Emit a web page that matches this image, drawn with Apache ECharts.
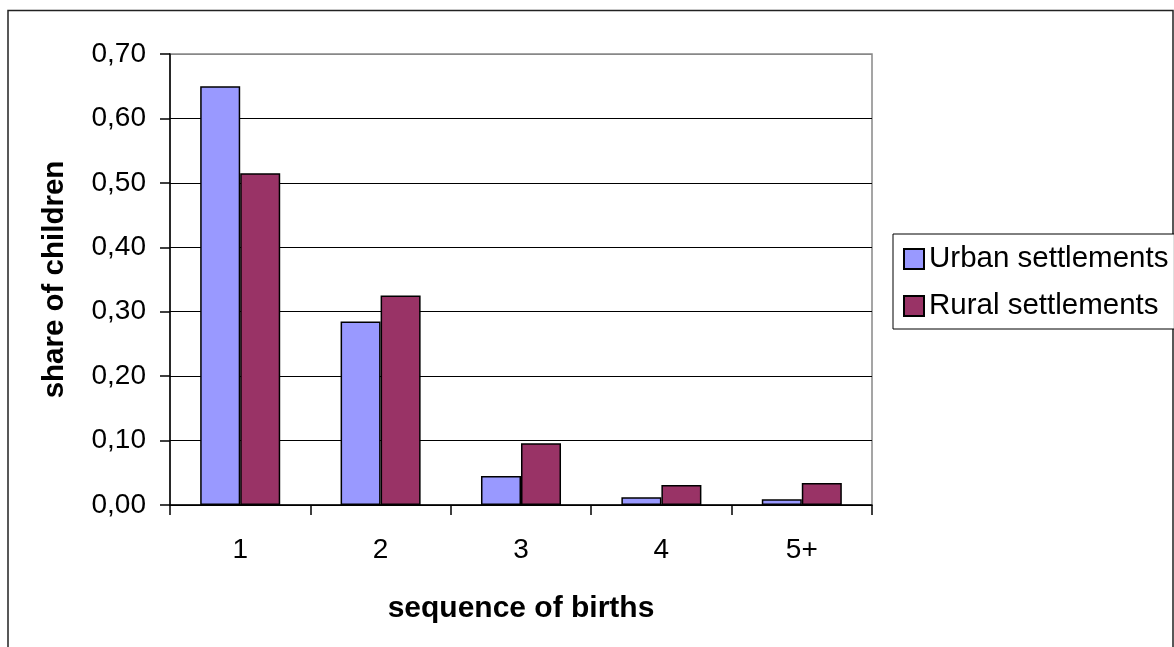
<!DOCTYPE html>
<html>
<head>
<meta charset="utf-8">
<script src="https://cdn.jsdelivr.net/npm/echarts@6/dist/echarts.min.js"></script>
<style>
  html, body { margin: 0; padding: 0; background: #fff; }
  #chart { width: 1174px; height: 647px; }
</style>
</head>
<body>
<div id="chart"></div>
<script>
// Birth order categories and share of children by settlement type
const categories = ['1', '2', '3', '4', '5+'];
const urbanShare = [0.65, 0.285, 0.045, 0.012, 0.009];
const ruralShare = [0.515, 0.325, 0.096, 0.031, 0.034];
const yTicks = { min: 0, max: 0.7, interval: 0.1 };

const FONT = '"Liberation Sans", Arial, sans-serif';

const chart = echarts.init(document.getElementById('chart'));

const barStyle = (color) => ({ color: color, borderColor: '#000', borderWidth: 1.5 });

chart.setOption({
  animation: false,
  backgroundColor: '#fff',
  textStyle: { fontFamily: FONT, color: '#000' },
  graphic: [{
    type: 'rect',
    shape: { x: 8, y: 10.5, width: 1165, height: 660 },
    style: { fill: 'none', stroke: '#222', lineWidth: 1.5 },
    silent: true,
    z: 0
  }],
  grid: {
    left: 170, top: 54, width: 702, height: 451,
    show: true, borderColor: '#888', borderWidth: 1.5, backgroundColor: 'transparent'
  },
  legend: {
    orient: 'vertical',
    left: 893, top: 234,
    padding: [10, 6, 8, 10],
    itemGap: 17,
    itemWidth: 20, itemHeight: 20,
    itemTextGap: 10,
    icon: 'rect',
    borderColor: '#000', borderWidth: 1,
    backgroundColor: '#fff',
    textStyle: { fontFamily: FONT, fontSize: 29.5, color: '#000' },
    data: ['Urban settlements', 'Rural settlements']
  },
  xAxis: {
    type: 'category',
    data: categories,
    name: 'sequence of births',
    nameLocation: 'middle',
    nameGap: 89,
    nameTextStyle: { fontFamily: FONT, fontSize: 30, fontWeight: 'bold', color: '#000' },
    axisLine: { lineStyle: { color: '#000', width: 1.5 } },
    axisTick: { show: true, alignWithLabel: false, length: 10, lineStyle: { color: '#000', width: 1.5 } },
    axisLabel: { margin: 31, fontFamily: FONT, fontSize: 28, color: '#000' },
    splitLine: { show: false }
  },
  yAxis: {
    type: 'value',
    min: yTicks.min, max: yTicks.max, interval: yTicks.interval,
    name: 'share of children',
    nameLocation: 'middle',
    nameGap: 100,
    nameTextStyle: { fontFamily: FONT, fontSize: 29.5, fontWeight: 'bold', color: '#000' },
    axisLine: { show: true, lineStyle: { color: '#000', width: 1.5 } },
    axisTick: { show: true, length: 10, lineStyle: { color: '#000', width: 1.5 } },
    axisLabel: {
      margin: 24, fontFamily: FONT, fontSize: 28, color: '#000',
      formatter: (v) => v.toFixed(2).replace('.', ',')
    },
    splitLine: { show: true, lineStyle: { color: ['#000', '#000', '#000', '#000', '#000', '#000', '#000', '#888'], width: 1.2 } }
  },
  series: [
    {
      name: 'Urban settlements', type: 'bar', data: urbanShare,
      barGap: '0%', barCategoryGap: '43%',
      itemStyle: barStyle('#9999FF')
    },
    {
      name: 'Rural settlements', type: 'bar', data: ruralShare,
      barGap: '0%', barCategoryGap: '43%',
      itemStyle: barStyle('#993366')
    }
  ]
});
</script>
</body>
</html>
